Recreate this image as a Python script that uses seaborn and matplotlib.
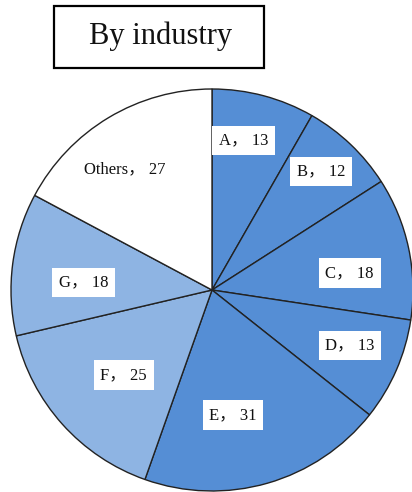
import numpy as np
import matplotlib
matplotlib.use("Agg")
import matplotlib.pyplot as plt
from matplotlib.patches import Rectangle
import seaborn as sns

# Share of companies by industry
categories = ["A", "B", "C", "D", "E", "F", "G", "Others"]
counts = [13, 12, 18, 13, 31, 25, 18, 27]

sns.set_theme(style="white")
plt.rcParams["font.family"] = ["Liberation Serif", "Noto Sans CJK SC", "DejaVu Sans"]

dark_blue = "#558ED5"
light_blue = "#8EB4E3"
colors = [dark_blue] * 5 + [light_blue] * 2 + ["#FFFFFF"]
# label placement: fraction of the radius, and angular nudge from the wedge middle (deg)
label_radius = [0.76, 0.80, 0.69, 0.74, 0.63, 0.61, 0.64, 0.74]
label_nudge = [3, 1, -5, 1.5, -6.5, 2, 4, 5]

W, H = 412, 492
fig = plt.figure(figsize=(W / 100, H / 100), dpi=100)
fig.patch.set_facecolor("white")

cx, cy, r = 212, 290, 201
ax = fig.add_axes([(cx - r) / W, (H - cy - r) / H, 2 * r / W, 2 * r / H])
wedges, _ = ax.pie(
    counts,
    colors=colors,
    startangle=90,
    counterclock=False,
    radius=1.0,
    wedgeprops=dict(edgecolor="#222222", linewidth=1.0),
)
ax.set_xlim(-1, 1)
ax.set_ylim(-1, 1)
ax.set_aspect("equal")
ax.axis("off")

for w, name, val, rr, nd in zip(wedges, categories, counts, label_radius, label_nudge):
    mid = np.deg2rad((w.theta1 + w.theta2) / 2 + nd)
    x, y = rr * np.cos(mid), rr * np.sin(mid)
    box = None if name == "Others" else dict(boxstyle="square,pad=0.4", fc="white", ec="none")
    ax.text(x, y, f"{name}， {val}", ha="center", va="center", fontsize=12,
            color="#111111", bbox=box)

# Title with framed box
fig.patches.append(Rectangle((54 / W, 1 - 68 / H), 210 / W, 62 / H,
                             transform=fig.transFigure, fill=False,
                             edgecolor="black", linewidth=1.6))
fig.text(161 / W, 1 - 36 / H, "By industry", ha="center", va="center",
         fontsize=22, color="#111111")

fig.savefig("out.png", dpi=100)
